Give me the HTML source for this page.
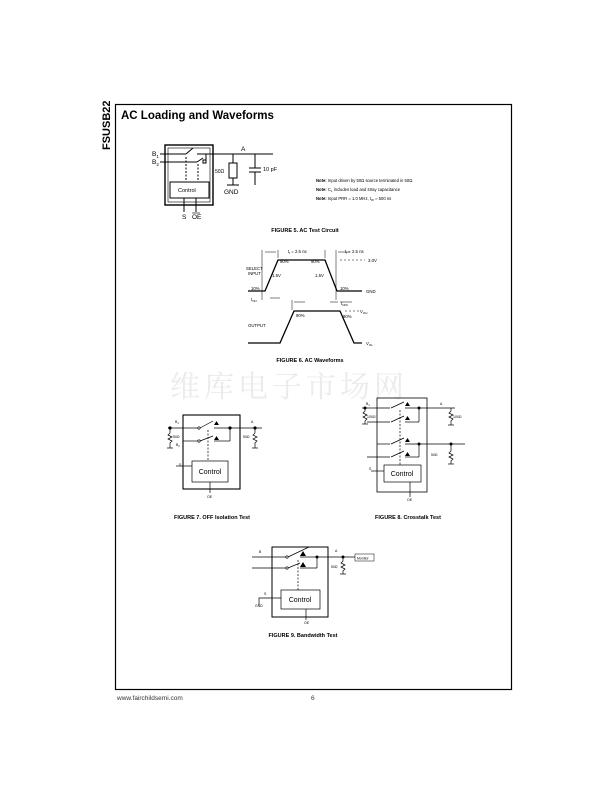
<!DOCTYPE html>
<html><head><meta charset="utf-8"><style>
html,body{margin:0;padding:0;background:#fff;}
svg{display:block;font-family:"Liberation Sans",Arial,sans-serif;}
</style></head><body>
<svg width="612" height="792" viewBox="0 0 612 792" xmlns="http://www.w3.org/2000/svg">
<!-- frame -->
<rect x="115.5" y="104.5" width="396" height="585" fill="none" stroke="#000" stroke-width="1.2"/>
<text x="0" y="0" transform="translate(110,150) rotate(-90)" font-size="11" font-weight="bold">FSUSB22</text>
<text x="121" y="119" font-size="11.5" font-weight="bold">AC Loading and Waveforms</text>
<text x="117" y="700" font-size="6.5" fill="#333">www.fairchildsemi.com</text>
<text x="311" y="700" font-size="6.5" fill="#333">6</text>
<!-- watermark -->
<text x="170" y="397" font-size="30" fill="#ebebeb" font-family="'Noto Serif CJK SC',serif" letter-spacing="4">维库电子市场网</text>

<!-- FIGURE 5 -->
<g stroke="#000" fill="none" stroke-width="1">
<rect x="165" y="145" width="48" height="60" stroke-width="1.4"/>
<rect x="168" y="148" width="42" height="54" stroke-width="0.6"/>
<line x1="160" y1="154" x2="186" y2="154"/>
<line x1="186" y1="154" x2="193" y2="148"/>
<line x1="197" y1="154" x2="273" y2="154"/>
<line x1="160" y1="162" x2="197" y2="162"/>
<line x1="197" y1="162" x2="203" y2="158"/>
<line x1="206" y1="154" x2="206" y2="162"/>
<rect x="203" y="160" width="3" height="3"/>
<line x1="186" y1="157" x2="186" y2="182" stroke-dasharray="2,1.5"/>
<line x1="198" y1="164" x2="198" y2="182" stroke-dasharray="2,1.5"/>
<rect x="170" y="182" width="39" height="16"/>
<line x1="184" y1="198" x2="184" y2="212"/>
<line x1="196" y1="198" x2="196" y2="212"/>
<line x1="233" y1="154" x2="233" y2="163"/>
<rect x="229" y="163" width="8" height="15"/>
<line x1="233" y1="178" x2="233" y2="185"/>
<line x1="227" y1="185" x2="239" y2="185"/>
<line x1="255" y1="154" x2="255" y2="168"/>
<line x1="249" y1="168" x2="261" y2="168"/>
<line x1="249" y1="172" x2="261" y2="172"/>
<line x1="255" y1="172" x2="255" y2="185"/>
</g>
<g font-size="6.5">
<text x="152" y="156">B<tspan font-size="4.5" dy="2">1</tspan></text>
<text x="152" y="164">B<tspan font-size="4.5" dy="2">2</tspan></text>
<text x="241" y="151">A</text>
<text x="215" y="173" font-size="5">50Ω</text>
<text x="263" y="171" font-size="5.5">10 pF</text>
<text x="224" y="194">GND</text>
<text x="178" y="192" font-size="5.5">Control</text>
<text x="182" y="219">S</text>
<text x="192" y="219">OE</text>
</g>
<line x1="192" y1="213" x2="200" y2="213" stroke="#000" stroke-width="0.6"/>
<g font-size="4.2">
<text x="316" y="182"><tspan font-weight="bold">Note:</tspan> Input driven by 50Ω source terminated in 50Ω</text>
<text x="316" y="191"><tspan font-weight="bold">Note:</tspan> C<tspan font-size="3" dy="1">L</tspan><tspan dy="-1"> includes load and stray capacitance</tspan></text>
<text x="316" y="200"><tspan font-weight="bold">Note:</tspan> Input PRR = 1.0 MHz, t<tspan font-size="3" dy="1">W</tspan><tspan dy="-1"> = 500 ns</tspan></text>
</g>
<text x="305" y="232" font-size="5.5" font-weight="bold" text-anchor="middle">FIGURE 5. AC Test Circuit</text>

<!-- FIGURE 6 -->
<g stroke="#000" fill="none">
<polyline points="248,291 265,291 278,260 325,260 337,291 362,291" stroke-width="1.3"/>
<polyline points="248,343 280,343 294,311 340,311 354,343 362,343" stroke-width="1.3"/>
<g stroke-width="0.5">
<line x1="262" y1="250" x2="262" y2="300"/>
<line x1="278" y1="250" x2="278" y2="258"/>
<line x1="336" y1="250" x2="336" y2="300"/>
<line x1="325" y1="250" x2="325" y2="258"/>
<line x1="265" y1="252" x2="276" y2="252"/>
<line x1="338" y1="252" x2="350" y2="252"/>
<line x1="270" y1="298" x2="280" y2="298"/>
<line x1="292" y1="300" x2="292" y2="310"/>
<line x1="294" y1="302" x2="305" y2="302"/>
<line x1="330" y1="302" x2="338" y2="302"/>
<line x1="340" y1="302" x2="352" y2="302"/>
<line x1="340" y1="260" x2="365" y2="260" stroke-dasharray="2,2"/>
<line x1="345" y1="311" x2="360" y2="311" stroke-dasharray="2,2"/>
</g>
</g>
<g font-size="4.3">
<text x="288" y="253">t<tspan font-size="3" dy="1">f</tspan><tspan dy="-1"> = 2.5 ns</tspan></text>
<text x="345" y="253">t<tspan font-size="3" dy="1">f</tspan><tspan dy="-1"> = 2.5 ns</tspan></text>
<text x="368" y="262">3.0V</text>
<text x="280" y="263">90%</text>
<text x="311" y="263">90%</text>
<text x="246" y="270">SELECT</text>
<text x="248" y="275">INPUT</text>
<text x="272" y="277">1.5V</text>
<text x="315" y="277">1.5V</text>
<text x="251" y="290">10%</text>
<text x="340" y="290">10%</text>
<text x="366" y="293">GND</text>
<text x="251" y="301">t<tspan font-size="3" dy="1">ON</tspan></text>
<text x="341" y="305">t<tspan font-size="3" dy="1">OFF</tspan></text>
<text x="360" y="313">V<tspan font-size="3" dy="1">OH</tspan></text>
<text x="296" y="317">90%</text>
<text x="343" y="318">90%</text>
<text x="248" y="327">OUTPUT</text>
<text x="366" y="345">V<tspan font-size="3" dy="1">OL</tspan></text>
</g>
<text x="310" y="362" font-size="5.5" font-weight="bold" text-anchor="middle">FIGURE 6. AC Waveforms</text>

<!-- FIGURE 7 -->
<g stroke="#000" fill="none" stroke-width="0.7">
<rect x="183" y="415" width="57" height="74" stroke-width="1.1"/>
<line x1="168" y1="428" x2="198" y2="428"/>
<line x1="200" y1="428" x2="213" y2="421"/>
<line x1="214" y1="428" x2="262" y2="428"/>
<line x1="183" y1="441" x2="198" y2="441"/>
<line x1="200" y1="441" x2="213" y2="436"/>
<line x1="214" y1="441" x2="230" y2="441"/>
<line x1="230" y1="428" x2="230" y2="441"/>
<circle cx="199" cy="428" r="1.2"/><circle cx="199" cy="441" r="1.2"/>
<line x1="208" y1="430" x2="208" y2="461" stroke-dasharray="2,1.5"/>
<rect x="192" y="461" width="36" height="21"/>
<line x1="210" y1="482" x2="210" y2="493"/>
<line x1="176" y1="466" x2="192" y2="466"/>
<line x1="170" y1="428" x2="170" y2="433"/>
<polyline points="170,433 168,435 172,437 168,439 172,441 170,443 170,448"/>
<line x1="167" y1="448" x2="173" y2="448"/>
<line x1="255" y1="428" x2="255" y2="433"/>
<polyline points="255,433 253,435 257,437 253,439 257,441 255,443 255,448"/>
<line x1="252" y1="448" x2="258" y2="448"/>
</g>
<g fill="#000">
<circle cx="170" cy="428" r="1.6"/><circle cx="230" cy="428" r="1.6"/><circle cx="255" cy="428" r="1.6"/>
<polygon points="214,425 219,425 216.5,421"/><polygon points="214,440 219,440 216.5,436"/>
</g>
<g font-size="3.5">
<text x="175" y="423">B<tspan font-size="2.5" dy="1">1</tspan></text>
<text x="176" y="446">B<tspan font-size="2.5" dy="1">2</tspan></text>
<text x="173" y="438">50Ω</text>
<text x="243" y="438">50Ω</text>
<text x="251" y="423">A</text>
<text x="179" y="466">S</text>
<text x="207" y="498">OE</text>
</g>
<text x="210" y="474" font-size="7" text-anchor="middle">Control</text>
<text x="212" y="519" font-size="5.5" font-weight="bold" text-anchor="middle">FIGURE 7. OFF Isolation Test</text>

<!-- FIGURE 8 -->
<g stroke="#000" fill="none" stroke-width="0.7">
<rect x="377" y="398" width="50" height="94" stroke-width="0.8"/>
<line x1="362" y1="408" x2="390" y2="408"/><line x1="391" y1="408" x2="404" y2="402"/><line x1="405" y1="408" x2="455" y2="408"/>
<line x1="367" y1="422" x2="390" y2="422"/><line x1="391" y1="422" x2="404" y2="416"/><line x1="405" y1="422" x2="419" y2="422"/>
<line x1="419" y1="408" x2="419" y2="422"/>
<line x1="377" y1="444" x2="390" y2="444"/><line x1="391" y1="444" x2="404" y2="438"/><line x1="405" y1="444" x2="465" y2="444"/>
<line x1="367" y1="457" x2="390" y2="457"/><line x1="391" y1="457" x2="404" y2="451"/><line x1="405" y1="457" x2="419" y2="457"/>
<line x1="419" y1="444" x2="419" y2="457"/>
<line x1="400" y1="410" x2="400" y2="465" stroke-dasharray="2,1.5"/>
<rect x="384" y="465" width="37" height="17"/>
<line x1="410" y1="482" x2="410" y2="497"/>
<line x1="371" y1="471" x2="384" y2="471"/>
<polyline points="365,408 365,411 363,413 367,415 363,417 367,419 365,421 365,424"/>
<line x1="362" y1="424" x2="368" y2="424"/>
<polyline points="451,408 451,411 449,413 453,415 449,417 453,419 451,421 451,425"/>
<line x1="448" y1="425" x2="454" y2="425"/>
<polyline points="451,444 451,451 449,453 453,455 449,457 453,459 451,461 451,464"/>
<line x1="448" y1="464" x2="454" y2="464"/>
</g>
<g fill="#000">
<circle cx="365" cy="408" r="1.5"/><circle cx="419" cy="408" r="1.5"/><circle cx="419" cy="444" r="1.5"/><circle cx="451" cy="444" r="1.5"/>
<polygon points="405,406 410,406 407.5,402"/><polygon points="405,420 410,420 407.5,416"/><polygon points="405,442 410,442 407.5,438"/><polygon points="405,456 410,456 407.5,452"/>
</g>
<g font-size="3.5">
<text x="366" y="405">B<tspan font-size="2.5" dy="1">1</tspan></text>
<text x="367" y="418">100Ω</text>
<text x="453" y="418">100Ω</text>
<text x="440" y="405">A</text>
<text x="431" y="456">50Ω</text>
<text x="369" y="470">S</text>
<text x="407" y="501">OE</text>
</g>
<text x="402" y="476" font-size="7" text-anchor="middle">Control</text>
<text x="408" y="519" font-size="5.5" font-weight="bold" text-anchor="middle">FIGURE 8. Crosstalk Test</text>

<!-- FIGURE 9 -->
<g stroke="#000" fill="none" stroke-width="0.7">
<rect x="272" y="547" width="56" height="70" stroke-width="1"/>
<line x1="252" y1="557" x2="286" y2="557"/><line x1="288" y1="557" x2="309" y2="547"/><line x1="300" y1="557" x2="355" y2="557"/>
<line x1="252" y1="568" x2="286" y2="568"/><line x1="288" y1="568" x2="300" y2="563"/><line x1="300" y1="568" x2="317" y2="568"/>
<line x1="317" y1="557" x2="317" y2="568"/>
<circle cx="287" cy="557" r="1.2"/><circle cx="287" cy="568" r="1.2"/>
<line x1="298" y1="560" x2="298" y2="590" stroke-dasharray="2,1.5"/>
<rect x="281" y="590" width="39" height="19"/>
<line x1="306" y1="609" x2="306" y2="620"/>
<polyline points="259,605 259,598 281,598"/>
<polyline points="343,557 343,561 341,563 345,565 341,567 345,569 343,571 343,574"/>
<line x1="340" y1="574" x2="346" y2="574"/>
<rect x="355" y="554" width="19" height="7" stroke-width="0.5"/>
</g>
<g fill="#000">
<circle cx="317" cy="557" r="1.5"/><circle cx="343" cy="557" r="1.5"/>
<polygon points="300,556 306,556 303,551"/><polygon points="300,567 306,567 303,562"/>
</g>
<g font-size="3.5">
<text x="259" y="553">B</text>
<text x="335" y="552">A</text>
<text x="331" y="568">50Ω</text>
<text x="357" y="559.5">Monitor</text>
<text x="264" y="595">S</text>
<text x="255" y="607">GND</text>
<text x="304" y="624">OE</text>
</g>
<text x="300" y="602" font-size="7" text-anchor="middle">Control</text>
<text x="303" y="637" font-size="5.5" font-weight="bold" text-anchor="middle">FIGURE 9. Bandwidth Test</text>
</svg>
</body></html>
